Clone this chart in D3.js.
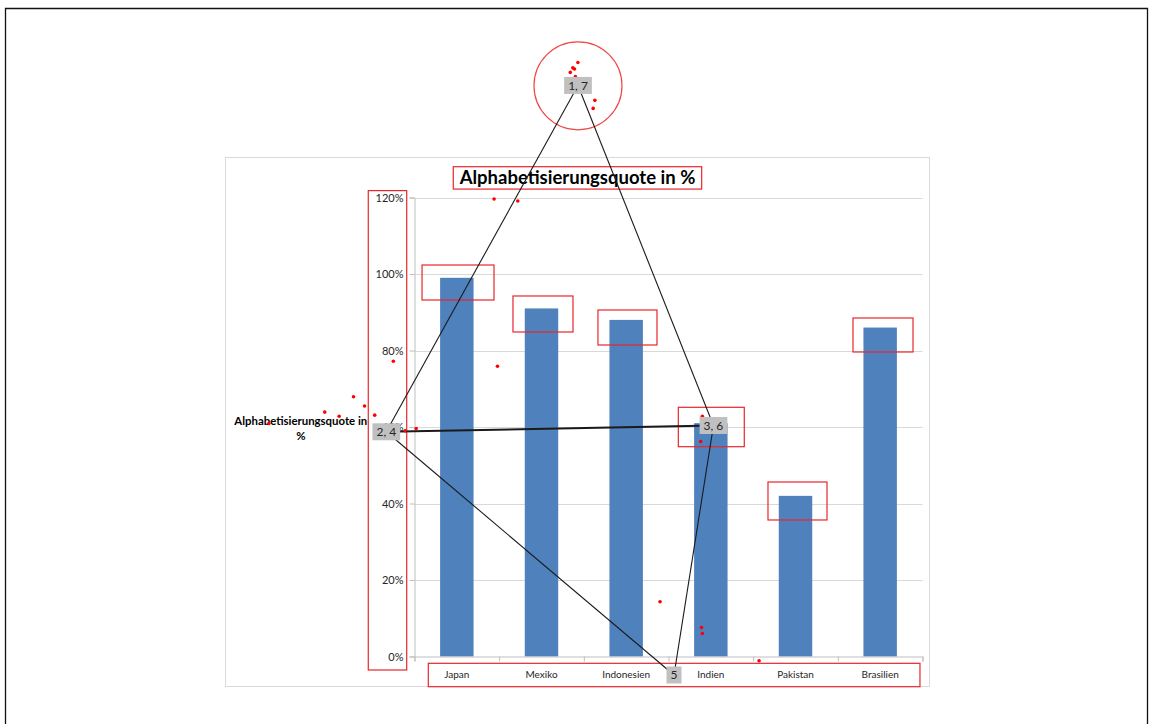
<!DOCTYPE html>
<html>
<head>
<meta charset="utf-8">
<script src="https://cdn.jsdelivr.net/npm/d3@7"></script>
<style>
  html, body { margin: 0; padding: 0; background: #fff; }
  svg { display: block; font-family: Lato, "Open Sans", sans-serif; }
</style>
</head>
<body>
<svg id="chart" width="1149" height="724"></svg>
<script>
// ---- chart data ----
const categories = ["Japan", "Mexiko", "Indonesien", "Indien", "Pakistan", "Brasilien"];
const rates = [99, 91, 88, 61, 42, 86];
const yTickValues = [0, 20, 40, 60, 80, 100, 120];
const chartTitle = "Alphabetisierungsquote in %";
const yAxisTitle = ["Alphabetisierungsquote in", "%"];

// ---- markup layer, in axis units: u = category slots from the plot's left edge, p = percent ----
const boxU0 = [0.089, 1.163, 2.167, 3.116, 4.175, 5.179, 0.458, -0.546, 0.163];
const boxU1 = [0.939, 1.872, 2.864, 3.895, 4.872, 5.888, 3.392, -0.092, 5.970];
const boxP0 = [93.2, 84.84, 81.44, 54.85, 35.69, 79.61, 122.2, -3.53, -7.9];
const boxP1 = [102.35, 94.25, 90.59, 65.15, 45.62, 88.5, 128.05, 121.8, -1.78];

const nodeLabels = ["1, 7", "2, 4", "3, 6", "5"];
const nodeU = [1.931, -0.333, 3.531, 3.065];
const nodeP = [149.3, 58.75, 60.4, -4.84];
const edgeFrom = ["1, 7", "1, 7", "2, 4", "2, 4", "5"];
const edgeTo   = ["2, 4", "3, 6", "3, 6", "5", "3, 6"];
const edgeHeavy = [false, false, true, false, false];

const circleU = [1.931];
const circleP = [149.2];

const dotU = [1.93, 1.87, 1.89, 1.84, 1.90, 2.13, 2.11, 0.94, 1.22, 0.98, -0.25, -0.72, -0.59,
              -1.06, -0.89, -0.47, -1.72, -0.11, 0.02, 3.40, 3.38, 2.90, 3.39, 3.40, 4.07];
const dotP = [155.3, 153.9, 153.6, 152.7, 151.6, 145.4, 143.3, 119.6, 119.1, 75.9, 77.2, 67.9, 65.5,
              63.9, 62.8, 63.1, 60.9, 59.0, 59.6, 62.8, 56.2, 14.3, 7.6, 6.0, -1.1];

// ---- layout ----
const plot = { left: 414.5, right: 922.5, top: 197.5, bottom: 656.5 };
const svg = d3.select("#chart");

const x = d3.scaleBand().domain(categories)
  .range([plot.left, plot.right]).paddingInner(0.605).paddingOuter(0.3025);
const y = d3.scaleLinear().domain([0, 120]).range([plot.bottom, plot.top]);
const u = d3.scaleLinear().domain([0, categories.length]).range([plot.left, plot.right]);

// page border
svg.append("path")
  .attr("d", "M5.5,724V8.5H1147.5V724")
  .attr("fill", "none").attr("stroke", "#111").attr("stroke-width", 1.3);

// chart frame
svg.append("rect")
  .attr("x", 225.5).attr("y", 157.5).attr("width", 704).attr("height", 529)
  .attr("fill", "#fff").attr("stroke", "#d9d9d9");

// gridlines
svg.append("g").selectAll("line")
  .data(yTickValues.filter(v => v > 0))
  .join("line")
  .attr("x1", plot.left).attr("x2", plot.right)
  .attr("y1", d => Math.round(y(d)) + 0.5).attr("y2", d => Math.round(y(d)) + 0.5)
  .attr("stroke", "#d9d9d9");

// bars
svg.append("g").selectAll("rect")
  .data(categories.map((c, i) => ({ c, v: rates[i] })))
  .join("rect")
  .attr("x", d => x(d.c)).attr("width", x.bandwidth())
  .attr("y", d => y(d.v)).attr("height", d => y(0) - y(d.v))
  .attr("fill", "#4f81bd");

// y axis
const yAxis = svg.append("g").attr("transform", `translate(${plot.left},0)`)
  .call(d3.axisLeft(y).tickValues(yTickValues).tickSize(5).tickPadding(6).tickFormat(d => d + "%"));
yAxis.select(".domain").attr("stroke", "#bfbfbf");
yAxis.selectAll(".tick line").attr("stroke", "#bfbfbf");
yAxis.selectAll("text").attr("font-size", 11).attr("fill", "#262626")
  .attr("font-family", "Lato, sans-serif");

// x axis: baseline with boundary ticks, then category labels
const xTicks = svg.append("g").attr("transform", `translate(0,${plot.bottom})`)
  .call(d3.axisBottom(u).tickValues(d3.range(categories.length + 1)).tickSize(5).tickFormat(""));
xTicks.select(".domain").attr("stroke", "#bfbfbf");
xTicks.selectAll(".tick line").attr("stroke", "#bfbfbf");

const xAxis = svg.append("g").attr("transform", `translate(0,${plot.bottom})`)
  .call(d3.axisBottom(x).tickSize(0).tickPadding(0));
xAxis.select(".domain").remove();
xAxis.selectAll("text")
  .attr("y", 17.5).attr("dy", "0.35em")
  .attr("font-size", 10).attr("fill", "#262626").attr("font-family", "Lato, sans-serif");

// title
svg.append("text")
  .attr("x", 577.5).attr("y", 177.5).attr("dy", "0.35em")
  .attr("text-anchor", "middle").attr("font-size", 18.5).attr("font-weight", "bold")
  .attr("fill", "#000").text(chartTitle);

// y axis title
svg.append("g").selectAll("text")
  .data(yAxisTitle).join("text")
  .attr("x", 300.8).attr("y", (d, i) => 420.7 + i * 15.3).attr("dy", "0.35em")
  .attr("text-anchor", "middle").attr("font-size", 11.4).attr("font-weight", "bold")
  .attr("fill", "#000").text(d => d);

// red highlight boxes
svg.append("g").selectAll("rect")
  .data(boxU0.map((v, i) => i))
  .join("rect")
  .attr("x", i => u(boxU0[i])).attr("width", i => u(boxU1[i]) - u(boxU0[i]))
  .attr("y", i => y(boxP1[i])).attr("height", i => y(boxP0[i]) - y(boxP1[i]))
  .attr("fill", "none").attr("stroke", "#e8262b").attr("stroke-width", 1.2);

// red circle
svg.append("circle")
  .attr("cx", u(circleU[0])).attr("cy", y(circleP[0])).attr("r", 44)
  .attr("fill", "none").attr("stroke", "#f04848").attr("stroke-width", 1.2);

// connecting lines between the numbered labels
const nodePos = {};
nodeLabels.forEach((n, i) => nodePos[n] = [u(nodeU[i]), y(nodeP[i])]);
svg.append("g").selectAll("line")
  .data(edgeFrom.map((f, i) => i))
  .join("line")
  .attr("x1", i => nodePos[edgeFrom[i]][0]).attr("y1", i => nodePos[edgeFrom[i]][1])
  .attr("x2", i => nodePos[edgeTo[i]][0]).attr("y2", i => nodePos[edgeTo[i]][1])
  .attr("stroke", "#1a1a1a").attr("stroke-width", i => edgeHeavy[i] ? 2 : 1.1);

// red dots
svg.append("g").selectAll("circle")
  .data(dotU.map((v, i) => i))
  .join("circle")
  .attr("cx", i => u(dotU[i])).attr("cy", i => y(dotP[i])).attr("r", 1.8)
  .attr("fill", "#ff0000");

// numbered labels
const nodeG = svg.append("g").selectAll("g")
  .data(nodeLabels).join("g")
  .attr("transform", d => `translate(${nodePos[d][0]},${nodePos[d][1]})`);
nodeG.append("text")
  .attr("text-anchor", "middle").attr("dy", "0.35em")
  .attr("font-size", 12).attr("fill", "#262626")
  .attr("font-family", "Lato, sans-serif").text(d => d);
nodeG.each(function () {
  const g = d3.select(this);
  const b = g.select("text").node().getBBox();
  g.insert("rect", "text")
    .attr("x", b.x - 4).attr("y", -8.5).attr("width", b.width + 8).attr("height", 17)
    .attr("fill", "#c0c0c0");
});
</script>
</body>
</html>
